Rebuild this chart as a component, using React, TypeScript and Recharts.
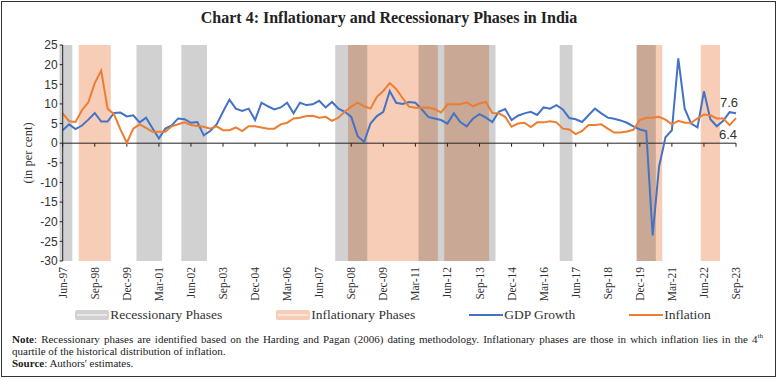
import React from 'react';
import { LineChart, Line, XAxis, YAxis, ReferenceArea, ReferenceLine, Legend } from 'recharts';

// Quarterly data, Jun-97 .. Sep-23 (106 quarters)
const gdpGrowth = [
  3.3, 4.8, 3.6, 4.5, 6.0, 7.7, 5.5, 5.5, 7.7, 7.8,
  6.8, 7.1, 5.3, 6.5, 3.8, 1.2, 3.7, 4.5, 6.3, 6.1,
  5.2, 5.4, 2.0, 3.1, 4.8, 8.0, 11.1, 8.8, 8.2, 8.8,
  5.9, 10.3, 9.4, 8.6, 9.1, 10.3, 7.6, 10.3, 9.7, 9.9,
  10.8, 9.1, 10.5, 8.8, 8.0, 6.7, 1.8, 0.3, 5.0, 6.9,
  8.0, 13.3, 10.3, 10.0, 10.5, 10.3, 8.6, 6.7, 6.3, 5.9,
  5.0, 7.6, 5.4, 4.3, 6.3, 7.4, 6.5, 5.4, 8.0, 8.7,
  5.9, 7.0, 7.6, 8.0, 7.2, 9.1, 8.8, 9.7, 8.6, 6.4,
  6.1, 5.4, 7.1, 8.8, 7.6, 6.5, 6.2, 5.8, 5.2, 4.3,
  3.5, 3.1, -23.5, -6.0, 1.5, 3.3, 21.6, 8.8, 5.0, 4.0,
  13.2, 6.1, 4.3, 5.7, 7.9, 7.6,
];

const inflation = [
  7.6, 5.6, 5.4, 8.4, 10.4, 15.3, 18.5, 8.8, 7.4, 3.5,
  0.1, 3.7, 4.8, 3.9, 2.9, 2.9, 2.9, 4.3, 4.8, 5.3,
  4.6, 4.4, 4.2, 3.7, 4.3, 3.3, 3.3, 4.0, 3.1, 4.3,
  4.3, 4.0, 3.7, 3.7, 4.8, 5.2, 6.3, 6.5, 6.9, 7.0,
  6.5, 6.7, 5.7, 6.5, 8.0, 9.3, 10.3, 9.4, 8.8, 11.8,
  13.3, 15.3, 13.8, 11.5, 9.3, 9.0, 9.0, 9.1, 8.7, 7.8,
  9.9, 9.9, 9.9, 10.4, 9.4, 10.1, 10.5, 7.7, 7.6, 6.7,
  4.2, 5.0, 5.2, 4.1, 5.3, 5.3, 5.6, 5.3, 3.7, 3.5,
  2.3, 3.1, 4.6, 4.6, 4.8, 3.7, 2.7, 2.7, 3.0, 3.4,
  5.9, 6.5, 6.5, 6.7, 6.0, 4.8, 5.7, 5.2, 5.2, 6.3,
  7.3, 7.1, 6.3, 6.3, 4.6, 6.4,
];

const tickLabels = [
  'Jun-97', 'Sep-98', 'Dec-99', 'Mar-01', 'Jun-02', 'Sep-03', 'Dec-04', 'Mar-06',
  'Jun-07', 'Sep-08', 'Dec-09', 'Mar-11', 'Jun-12', 'Sep-13', 'Dec-14', 'Mar-16',
  'Jun-17', 'Sep-18', 'Dec-19', 'Mar-21', 'Jun-22', 'Sep-23',
];

const yTicks = [25, 20, 15, 10, 5, 0, -5, -10, -15, -20, -25, -30];

const recessionaryPhases = [
  ['Jun-97', 'Sep-97'],
  ['Jun-00', 'Mar-01'],
  ['Mar-02', 'Dec-02'],
  ['Mar-08', 'Mar-09'],
  ['Jun-11', 'Mar-14'],
  ['Dec-16', 'Mar-17'],
  ['Dec-19', 'Jun-20'],
];

const inflationaryPhases = [
  ['Mar-98', 'Mar-99'],
  ['Sep-08', 'Dec-11'],
  ['Jun-12', 'Dec-13'],
  ['Dec-19', 'Sep-20'],
  ['Jun-22', 'Dec-22'],
];

const MONTH_Q: Record<string, number> = { Mar: 0, Jun: 1, Sep: 2, Dec: 3 };
const qIndex = (label: string) => {
  const [m, yy] = label.split('-');
  const y = Number(yy);
  const year = y < 50 ? 2000 + y : 1900 + y;
  return (year - 1997) * 4 + MONTH_Q[m] - 1;
};

const data = gdpGrowth.map((g, i) => ({ idx: i, gdp: g, inf: inflation[i] }));
const xTicks = tickLabels.map(qIndex);
const lastIndex = gdpGrowth.length - 1;

const SERIF = '"Liberation Serif", "DejaVu Serif", serif';
const SANS = '"Liberation Sans", Arial, sans-serif';

const XTick = (props: any) => {
  const { x, y, payload } = props;
  const label = tickLabels[xTicks.indexOf(payload.value)] ?? '';
  return (
    <g transform={`translate(${x},${y})`}>
      <text transform="rotate(-90)" x={0} y={0} dy="0.35em" textAnchor="end" fontSize={11.5} fontFamily={SERIF} fill="#333">
        {label}
      </text>
    </g>
  );
};

const makeEndLabel = (dx: number, dy: number) => (props: any) => {
  const { x, y, value, index } = props;
  if (index !== lastIndex) return null;
  return (
    <text x={x + dx} y={y + dy} textAnchor="middle" fontSize={13} fontFamily={SANS} fill="#333">
      {value}
    </text>
  );
};

const LegendContent = () => {
  const item = (swatch: React.ReactNode, text: string) => (
    <div style={{ display: 'flex', alignItems: 'center' }}>
      {swatch}
      <span style={{ marginLeft: 1 }}>{text}</span>
    </div>
  );
  const band = (color: string) => (
    <svg width={34} height={10}>
      <rect x={0} y={0} width={34} height={10} rx={2} fill={color} />
      <line x1={2} x2={32} y1={5} y2={5} stroke="#fff" strokeWidth={1} />
    </svg>
  );
  const line = (color: string) => (
    <svg width={34} height={10}>
      <line x1={0} x2={34} y1={5} y2={5} stroke={color} strokeWidth={2} />
    </svg>
  );
  return (
    <div style={{ display: 'flex', justifyContent: 'center', gap: 54, fontFamily: SERIF, fontSize: 13.5, color: '#333', lineHeight: '16px', paddingLeft: 8 }}>
      {item(band('#D1D1D1'), 'Recessionary Phases')}
      {item(band('#F7CDB7'), 'Inflationary Phases')}
      {item(line('#4472C4'), 'GDP Growth')}
      {item(line('#ED7D31'), 'Inflation')}
    </div>
  );
};

export default function App() {
  return (
    <div style={{ position: 'absolute', left: 0, top: 0, width: 778, height: 379, background: '#fff' }}>
      <div style={{ position: 'absolute', left: 1, top: 1, width: 773, height: 374, border: '1px solid #333' }} />
      <div style={{ position: 'absolute', left: 0, top: 8, width: 778, textAlign: 'center', fontFamily: SERIF, fontSize: 16, fontWeight: 'bold', color: '#222', lineHeight: '20px' }}>
        Chart 4: Inflationary and Recessionary Phases in India
      </div>
      <div style={{ position: 'absolute', left: 0, top: 0 }}>
        <LineChart width={778} height={310} data={data} margin={{ top: 45, right: 42, left: 2.7, bottom: 0 }}>
          <XAxis
            dataKey="idx"
            type="number"
            domain={[0, lastIndex]}
            ticks={xTicks}
            interval={0}
            tick={<XTick />}
            tickLine={false}
            axisLine={false}
            tickSize={4}
            tickMargin={2}
            height={49}
          />
          <YAxis
            type="number"
            domain={[-30, 25]}
            ticks={yTicks}
            interval={0}
            width={60}
            tickSize={3}
            tickMargin={2}
            axisLine={{ stroke: '#222' }}
            tickLine={{ stroke: '#222' }}
            tick={{ fontSize: 12, fontFamily: SANS, fill: '#333' }}
            label={{ value: '(in per cent)', angle: -90, position: 'insideLeft', offset: 25, style: { textAnchor: 'middle', fontFamily: SERIF, fontSize: 12.5, fill: '#333' } }}
          />
          {inflationaryPhases.map(([a, b], i) => (
            <ReferenceArea key={`inf-${i}`} x1={qIndex(a) - 0.5} x2={qIndex(b) + 0.5} y1={-30} y2={25} fill="#F7CDB7" fillOpacity={1} stroke="none" ifOverflow="visible" />
          ))}
          {recessionaryPhases.map(([a, b], i) => (
            <ReferenceArea key={`rec-${i}`} x1={qIndex(a) - 0.5} x2={qIndex(b) + 0.5} y1={-30} y2={25} fill="#000" fillOpacity={0.18} stroke="none" ifOverflow="visible" />
          ))}
          <ReferenceLine y={0} stroke="#222" strokeWidth={1} ifOverflow="visible" />
          {xTicks.map((t) => (
            <ReferenceLine key={`t-${t}`} segment={[{ x: t, y: 0 }, { x: t, y: -0.9 }]} stroke="#222" strokeWidth={1} ifOverflow="visible" />
          ))}
          <Legend layout="horizontal" verticalAlign="middle" align="center" wrapperStyle={{ top: 307, left: 0, width: 778 }} content={() => <LegendContent />} />
          <Line type="linear" dataKey="gdp" name="GDP Growth" stroke="#4472C4" strokeWidth={2} dot={false} isAnimationActive={false} label={makeEndLabel(-7, -6)} />
          <Line type="linear" dataKey="inf" name="Inflation" stroke="#ED7D31" strokeWidth={2} dot={false} isAnimationActive={false} label={makeEndLabel(-8, 21)} />
        </LineChart>
      </div>
      <div style={{ position: 'absolute', left: 12, top: 334, width: 751, fontFamily: SERIF, fontSize: 11, color: '#222', lineHeight: '11.5px' }}>
        <div style={{ textAlign: 'justify', textAlignLast: 'justify' }}>
          <b>Note</b>: Recessionary phases are identified based on the Harding and Pagan (2006) dating methodology. Inflationary phases are those in which inflation lies in the 4<sup style={{ fontSize: 7, lineHeight: 0 }}>th</sup>
        </div>
        <div>quartile of the historical distribution of inflation.</div>
        <div style={{ marginTop: 1 }}>
          <b>Source</b>: Authors' estimates.
        </div>
      </div>
    </div>
  );
}
